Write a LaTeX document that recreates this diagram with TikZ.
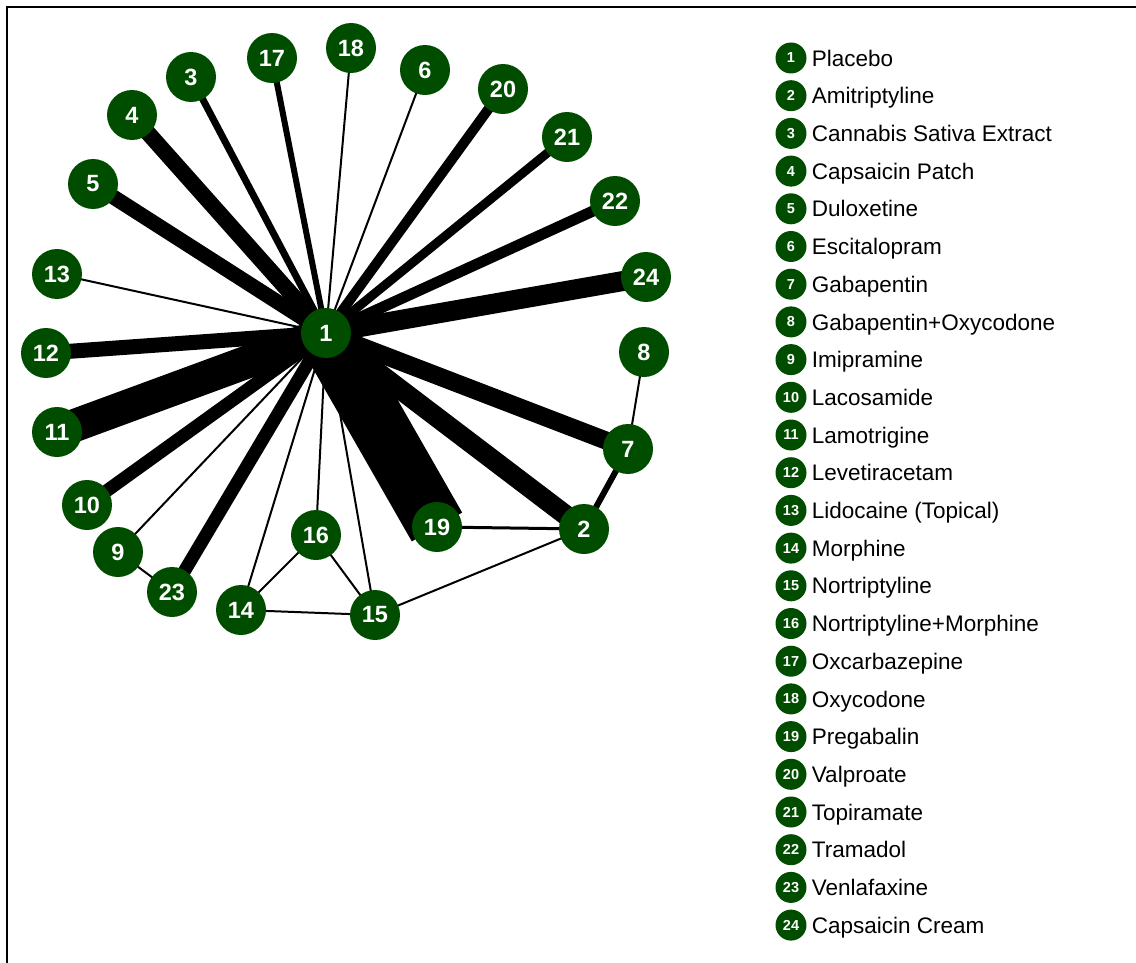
\documentclass[tikz,border=0pt]{standalone}
\usepackage{fontspec}
\setmainfont{Liberation Sans}
\usepackage{xcolor}
\usetikzlibrary{positioning,backgrounds}
\definecolor{trtgreen}{HTML}{004D00}

\begin{document}
\begin{tikzpicture}[x=1pt,y=-1pt,
  trt/.style={circle,fill=trtgreen,minimum size=50pt,inner sep=0pt,text=white,
              font=\fontsize{23.5}{23.5}\selectfont\bfseries},
  key/.style={circle,fill=trtgreen,minimum size=31pt,inner sep=0pt,text=white,
              font=\fontsize{14.5}{14.5}\selectfont\bfseries},
  keytxt/.style={anchor=west,inner sep=0pt,text height=16.2pt,text depth=0pt,
                 font=\fontsize{22.5}{23}\selectfont},
]
\useasboundingbox (0,0) rectangle (1136,963);
\draw[line width=2.2pt] (7,963) -- (7,7) -- (1136,7);

% treatments
\node[trt] (n1) at (326,333) {1};
\node[trt] (n2) at (584,529) {2};
\node[trt] (n3) at (191,77) {3};
\node[trt] (n4) at (132,115) {4};
\node[trt] (n5) at (93,184) {5};
\node[trt] (n6) at (425,70) {6};
\node[trt] (n7) at (628,449) {7};
\node[trt] (n8) at (644,352) {8};
\node[trt] (n9) at (118,552) {9};
\node[trt] (n10) at (87,505) {10};
\node[trt] (n11) at (57,432) {11};
\node[trt] (n12) at (46,353) {12};
\node[trt] (n13) at (57,274) {13};
\node[trt] (n14) at (241,610) {14};
\node[trt] (n15) at (375,615) {15};
\node[trt] (n16) at (316,535) {16};
\node[trt] (n17) at (272,58) {17};
\node[trt] (n18) at (351,48) {18};
\node[trt] (n19) at (437,527) {19};
\node[trt] (n20) at (503,89) {20};
\node[trt] (n21) at (567,137) {21};
\node[trt] (n22) at (615,201) {22};
\node[trt] (n23) at (172,592) {23};
\node[trt] (n24) at (646,277) {24};

% comparisons, width ~ number of trials
\begin{scope}[on background layer]
\foreach \a/\b/\w in {1/2/20, 1/3/7, 1/4/16, 1/5/15, 1/6/2, 1/7/18, 1/9/2,
    1/10/13, 1/11/33, 1/12/15, 1/13/2, 1/14/2, 1/15/2, 1/16/2, 1/17/6,
    1/18/2, 1/19/58, 1/20/10, 1/21/9, 1/22/11, 1/23/13, 1/24/20, 2/7/6,
    7/8/2, 2/19/3, 2/15/2, 14/15/2, 14/16/2, 15/16/2, 9/23/2}
  \draw[line width=\w pt] (n\a.center) -- (n\b.center);
\end{scope}

% legend
\foreach \name [count=\k] in {Placebo, Amitriptyline, Cannabis Sativa Extract,
    Capsaicin Patch, Duloxetine, Escitalopram, Gabapentin, Gabapentin+Oxycodone,
    Imipramine, Lacosamide, Lamotrigine, Levetiracetam, Lidocaine (Topical),
    Morphine, Nortriptyline, Nortriptyline+Morphine, Oxcarbazepine, Oxycodone,
    Pregabalin, Valproate, Topiramate, Tramadol, Venlafaxine, Capsaicin Cream}
{
  \node[key] (k\k) at (791,{58+37.7*(\k-1)}) {\k};
  \node[keytxt,right=5pt of k\k] (t\k) {\name};
}
\end{tikzpicture}
\end{document}
